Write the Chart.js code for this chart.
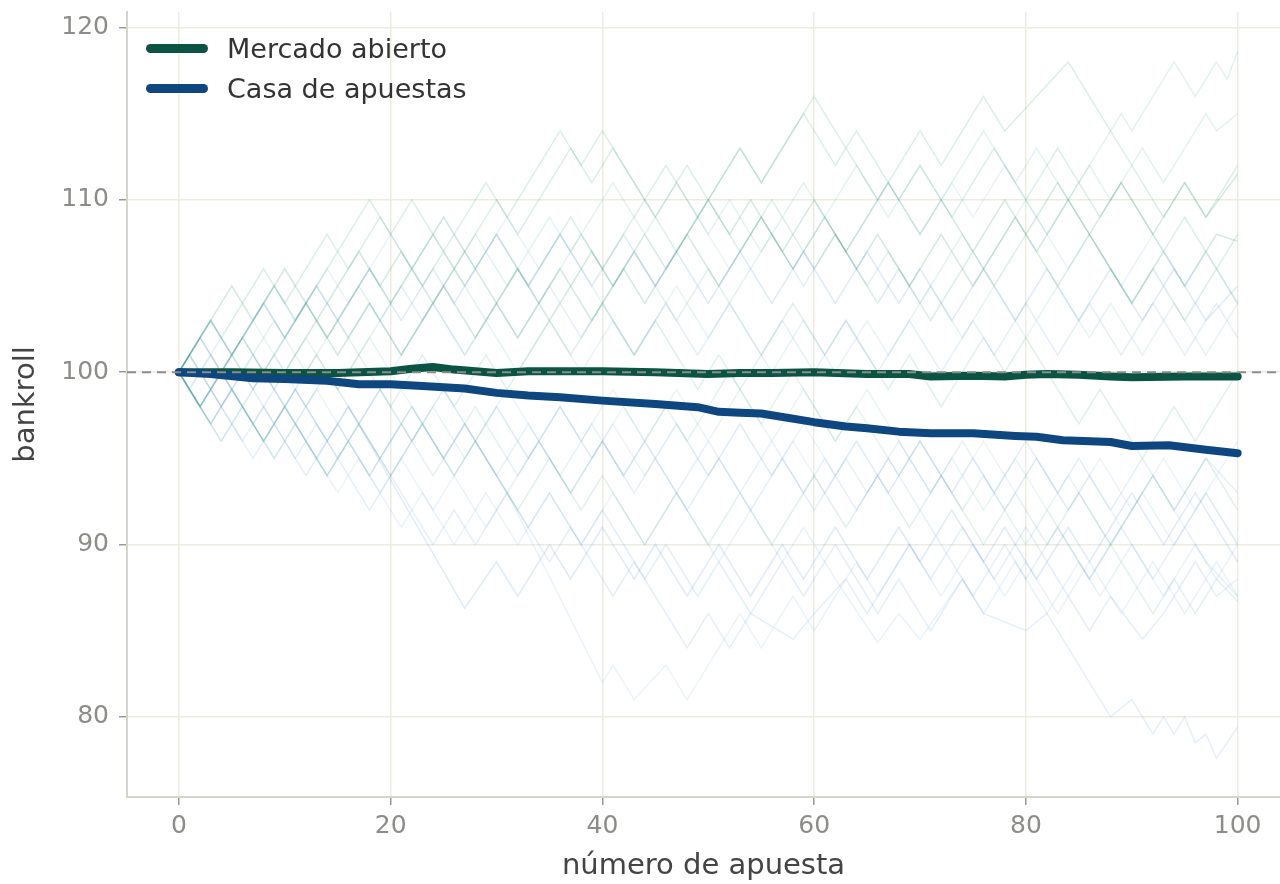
<!DOCTYPE html>
<html lang="es">
<head>
    <meta charset="UTF-8">
    <title>Bankroll: mercado abierto vs casa de apuestas</title>
    <script src="https://cdn.jsdelivr.net/npm/chart.js"></script>
    <style>
        body {
            margin: 0;
            padding: 0;
            background-color: #ffffff;
            font-family: "DejaVu Sans", sans-serif;
        }
        .chart-box {
            position: relative;
            width: 1280px;
            height: 884px;
        }
        .leyenda {
            position: absolute;
            left: 146px;
            top: 28px;
            font-size: 27px;
            color: #333333;
        }
        .leyenda div {
            height: 40px;
            display: flex;
            align-items: center;
        }
        .leyenda span.linea {
            display: inline-block;
            width: 62px;
            height: 9px;
            border-radius: 5px;
            margin-right: 19px;
        }
    </style>
</head>
<body>

<div class="chart-box">
    <canvas id="grafico"></canvas>
    <div class="leyenda">
        <div><span class="linea" style="background:#0b5444"></span>Mercado abierto</div>
        <div><span class="linea" style="background:#0e4680"></span>Casa de apuestas</div>
    </div>
</div>

<script>
    // Ticks de los ejes
    const ticksX = [0, 20, 40, 60, 80, 100];
    const ticksY = [80, 90, 100, 110, 120];

    // Media del bankroll - mercado abierto
    const mercadoX = [0, 5, 10, 15, 20, 22, 24, 26, 30, 33, 36, 40, 45, 50, 53, 56, 60, 65, 69, 71, 75, 78, 80, 82, 85, 88, 90, 95, 100];
    const mercadoMedia = [100, 100.0, 99.95, 99.95, 100.05, 100.2, 100.3, 100.15, 99.95, 100.05, 100.05, 100.05, 100.0, 99.9, 99.95, 99.95, 100.0, 99.9, 99.9, 99.75, 99.8, 99.75, 99.85, 99.9, 99.85, 99.75, 99.7, 99.75, 99.75];

    // Media del bankroll - casa de apuestas
    const casaX = [0, 3, 7, 10, 14, 17, 20, 23, 27, 30, 33, 36, 40, 45, 49, 51, 53, 55, 60, 63, 65, 68, 71, 75, 79, 81, 83.5, 88, 90, 93.5, 97, 100];
    const casaMedia = [100, 99.9, 99.65, 99.6, 99.5, 99.3, 99.3, 99.2, 99.05, 98.8, 98.65, 98.55, 98.35, 98.15, 97.97, 97.7, 97.65, 97.6, 97.1, 96.85, 96.75, 96.55, 96.45, 96.45, 96.3, 96.25, 96.05, 95.95, 95.72, 95.76, 95.5, 95.3];

    // Trayectorias individuales (vértices) - mercado abierto
    const caminosMercado = [
        [[0,100],[3,103],[5,101],[9,105],[11,103],[18,110],[20,108],[22,110],[25,107],[29,111],[31,109],[36,114],[38,112],[40,114],[44,110],[46,112],[49,109],[53,113],[55,111],[60,116],[66,110],[70,114],[72,112],[76,116],[78,114],[84,118],[93,109],[95,111],[97,109],[100,112]],
        [[0,100],[2,98],[6,102],[8,100],[12,104],[14,102],[17,105],[19,103],[24,108],[26,106],[28,108],[31,105],[35,109],[37,107],[41,111],[44,108],[47,111],[50,108],[52,110],[55,107],[59,111],[61,109],[64,112],[67,109],[70,112],[72,110],[76,114],[79,111],[81,113],[84,110],[89,115],[90,114],[94,118],[96,116],[98,118],[99,117],[100,118.6]],
        [[0,100],[1,101],[3,99],[6,102],[9,99],[13,103],[15,101],[18,104],[21,101],[25,105],[28,102],[30,104],[32,102],[36,106],[39,103],[42,106],[44,104],[48,108],[51,105],[55,109],[57,107],[60,110],[64,106],[66,108],[69,105],[72,108],[75,105],[79,109],[81,107],[84,110],[87,107],[90,104],[93,107],[95,105],[98,108],[100,107.6]],
        [[0,100],[2,102],[5,99],[7,101],[11,97],[13,99],[16,96],[19,99],[22,96],[24,98],[27,95],[30,98],[33,95],[36,98],[38,96],[41,99],[44,96],[47,99],[50,96],[53,99],[56,96],[59,99],[62,96],[65,99],[71,93],[73,95],[76,92],[79,95],[82,92],[84,94],[88,90],[91,93],[94,90],[97,93],[100,90]],
        [[0,100],[4,96],[6,98],[8,96],[13,101],[15,99],[17,101],[20,98],[23,101],[26,98],[29,101],[31,99],[35,103],[37,101],[40,104],[43,101],[45,103],[49,99],[51,101],[53,99],[58,104],[61,101],[63,103],[67,99],[69,101],[72,98],[76,102],[78,100],[80,102],[85,97],[87,99],[91,95],[94,98],[96,96],[100,100]],
        [[0,100],[3,103],[4,102],[8,106],[10,104],[14,108],[16,106],[19,109],[23,105],[25,107],[27,105],[30,108],[33,105],[37,109],[40,106],[44,110],[47,107],[50,110],[53,107],[56,110],[60,106],[62,108],[66,104],[68,106],[71,103],[75,107],[77,105],[80,108],[83,105],[86,108],[90,104],[92,106],[95,103],[98,106],[100,104]],
        [[0,100],[2,98],[4,100],[8,96],[10,98],[14,94],[16,96],[18,94],[22,98],[25,95],[28,98],[32,94],[34,96],[37,93],[40,96],[42,94],[46,98],[48,96],[52,100],[55,97],[58,100],[62,96],[64,98],[68,94],[70,96],[74,92],[76,94],[80,90],[82,92],[86,88],[88,90],[92,86],[94,88],[96,86],[98,88],[100,86.7]],
        [[0,100],[5,105],[7,103],[10,106],[13,103],[17,107],[19,105],[21,107],[24,104],[27,107],[30,104],[32,106],[35,103],[39,107],[41,105],[44,108],[46,106],[50,110],[52,108],[54,110],[58,106],[61,109],[63,107],[67,111],[70,108],[72,110],[75,107],[78,110],[80,108],[83,111],[86,108],[89,111],[92,108],[95,111],[97,109],[100,111.5]],
        [[0,100],[2,102],[4,100],[7,103],[10,100],[12,102],[15,99],[18,102],[20,100],[24,104],[27,101],[29,103],[32,100],[35,103],[38,100],[41,103],[43,101],[47,105],[50,102],[52,104],[56,100],[59,103],[62,100],[65,103],[67,101],[71,105],[74,102],[77,105],[80,102],[83,105],[86,102],[88,104],[91,101],[94,104],[97,101],[100,104]],
        [[0,100],[3,97],[5,99],[9,95],[11,97],[14,94],[17,97],[20,94],[23,97],[26,94],[28,96],[32,92],[35,95],[38,92],[40,94],[44,90],[47,93],[50,90],[53,93],[56,90],[60,94],[63,91],[66,94],[69,91],[72,94],[76,90],[79,93],[82,90],[85,93],[88,90],[92,94],[94,92],[97,95],[100,92]],
        [[0,100],[2,98],[5,101],[7,99],[12,104],[14,102],[18,106],[20,104],[25,109],[27,107],[30,110],[32,108],[37,113],[39,111],[41,113],[45,109],[48,112],[50,110],[53,113],[55,111],[59,115],[62,112],[64,114],[68,110],[70,112],[73,109],[77,113],[80,110],[83,113],[87,109],[89,111],[93,107],[95,109],[98,106],[100,108]],
        [[0,100],[1,99],[4,102],[6,100],[9,103],[12,100],[15,103],[17,101],[21,105],[23,103],[26,106],[29,103],[32,106],[34,104],[38,108],[41,105],[43,107],[47,103],[50,106],[52,104],[56,108],[59,105],[62,108],[65,105],[67,107],[70,104],[74,108],[76,106],[80,110],[82,108],[86,112],[88,110],[91,113],[93,111],[97,115],[98,114],[100,115]]
    ];

    // Trayectorias individuales (vértices) - casa de apuestas
    const caminosCasa = [
        [[0,100],[2,98],[3,99],[7,95],[9,97],[12,94],[14,96],[18,92],[20,94],[24,90],[26,92],[28,90],[31,93],[35,89],[37,91],[41,87],[43,89],[48,84],[50,86],[52,84],[57,89],[59,87],[62,90],[66,86],[68,88],[71,85],[74,88],[76,86],[80,85],[82,86],[88,80],[90,81],[92,79],[93,80],[94,79],[95,80],[96,78.5],[97,79],[98,77.6],[100,79.4]],
        [[0,100],[3,97],[5,99],[8,96],[10,98],[14,94],[16,96],[19,93],[21,95],[24,92],[26,94],[29,91],[31,93],[40,82],[41,83],[43,81],[46,83],[48,81],[53,86],[55,84],[58,87],[60,85],[64,89],[66,87],[69,90],[72,87],[75,90],[78,87],[80,89],[83,86],[86,89],[89,86],[92,89],[95,86],[98,89],[100,87]],
        [[0,100],[1,101],[4,98],[6,100],[9,97],[11,99],[14,96],[16,98],[27,86.3],[30,89],[32,87],[35,90],[37,88],[40,91],[43,88],[45,90],[48,87],[51,90],[54,87],[57,90],[59,88],[62,91],[65,88],[68,91],[70,89],[73,92],[76,89],[78,91],[81,88],[84,91],[86,89],[90,93],[93,90],[96,93],[100,89]],
        [[0,100],[2,98],[4,100],[6,98],[9,101],[12,98],[14,100],[17,97],[20,100],[23,97],[25,99],[28,96],[31,99],[34,96],[36,98],[39,95],[42,98],[45,95],[47,97],[50,94],[53,97],[56,94],[58,96],[61,93],[64,96],[67,93],[70,96],[73,93],[75,95],[78,92],[81,95],[84,92],[86,94],[89,91],[92,94],[95,91],[97,93],[100,90]],
        [[0,100],[3,103],[5,101],[8,104],[10,102],[13,105],[16,102],[18,104],[21,101],[24,104],[27,101],[30,104],[32,102],[35,105],[38,102],[40,104],[43,101],[46,104],[49,101],[52,104],[55,101],[57,103],[60,100],[63,103],[66,100],[69,103],[72,100],[75,103],[77,101],[80,104],[83,101],[86,104],[89,101],[92,104],[95,101],[98,104],[100,102]],
        [[0,100],[2,98],[3,99],[6,96],[8,98],[11,95],[13,97],[15,95],[17,97],[20,94],[23,97],[26,94],[28,96],[31,93],[34,96],[37,93],[40,96],[43,93],[45,95],[48,92],[51,95],[54,92],[57,95],[60,92],[63,95],[65,93],[68,96],[71,93],[74,96],[77,93],[80,96],[83,93],[85,95],[88,92],[91,95],[94,92],[97,95],[100,93]],
        [[0,100],[4,96],[6,98],[9,95],[11,97],[15,93],[17,95],[21,91],[23,93],[26,90],[29,93],[32,90],[35,93],[38,90],[41,93],[44,90],[47,93],[51,89],[54,92],[57,89],[59,91],[62,88],[66,84.3],[68,86],[70,84.5],[74,88],[76,86],[79,89],[82,86],[85,89],[87,87],[90,90],[93,87],[96,90],[98,88],[100,90]],
        [[0,100],[2,102],[4,100],[8,104],[10,102],[13,105],[15,103],[18,106],[21,103],[24,106],[26,104],[30,108],[33,105],[36,108],[39,105],[42,108],[45,105],[47,107],[50,104],[53,107],[56,104],[59,107],[62,104],[65,107],[68,104],[70,106],[73,103],[76,106],[79,103],[82,106],[85,103],[88,106],[91,103],[94,106],[97,103],[100,105]],
        [[0,100],[1,99],[3,101],[6,98],[8,100],[11,97],[14,100],[17,97],[19,99],[22,96],[25,99],[28,96],[30,98],[33,95],[36,98],[39,95],[41,97],[44,94],[47,97],[50,94],[53,97],[56,94],[59,97],[62,94],[64,96],[67,93],[70,96],[73,93],[76,96],[79,93],[81,95],[84,92],[87,95],[90,92],[93,95],[96,92],[100,96]],
        [[0,100],[3,97],[5,99],[8,96],[11,99],[14,96],[16,98],[19,95],[22,98],[25,95],[27,97],[30,94],[33,97],[36,94],[39,97],[42,94],[44,96],[47,93],[50,96],[53,93],[56,96],[59,93],[61,95],[64,92],[67,95],[70,92],[75,87],[78,90],[80,88],[83,91],[86,88],[89,91],[92,88],[95,91],[97,89],[100,87]],
        [[0,100],[2,98],[4,100],[7,97],[9,99],[13,95],[15,97],[18,94],[21,97],[24,94],[27,97],[30,94],[33,91],[35,93],[38,90],[40,92],[44,88],[46,90],[49,87],[51,89],[54,86],[58,84.5],[60,86],[63,88],[65,86],[69,90],[71,88],[74,91],[77,88],[80,91],[83,88],[86,85],[88,87],[91,84.5],[93,86],[96,89],[98,87],[100,88]],
        [[0,100],[3,103],[5,101],[9,105],[11,103],[14,106],[16,104],[20,108],[22,106],[25,109],[28,106],[31,109],[34,106],[36,108],[40,104],[43,107],[45,105],[49,109],[52,106],[55,109],[58,106],[61,109],[63,107],[67,111],[70,108],[73,111],[75,109],[78,112],[81,109],[84,106],[86,108],[89,105],[92,108],[95,105],[97,107],[100,104]]
    ];

    // Colores de las trayectorias (de verde azulado a azul)
    const coloresMercado = ['rgba(60,160,125,0.18)', 'rgba(90,175,160,0.16)', 'rgba(45,145,110,0.20)', 'rgba(110,180,175,0.15)', 'rgba(75,165,140,0.17)'];
    const coloresCasa = ['rgba(90,145,210,0.15)', 'rgba(110,170,215,0.14)', 'rgba(75,135,200,0.17)', 'rgba(130,180,215,0.14)', 'rgba(95,155,210,0.15)'];

    const aPuntos = (xs, ys) => xs.map((x, i) => ({ x: x, y: ys[i] }));
    const verticesAPuntos = v => v.map(p => ({ x: p[0], y: p[1] }));

    const datasets = [];

    // Línea de referencia (bankroll inicial)
    datasets.push({
        data: [{ x: -4.9, y: 100 }, { x: 104, y: 100 }],
        borderColor: '#8c8c8c',
        borderWidth: 2,
        borderDash: [9, 6],
        pointRadius: 0,
        order: 0
    });
    datasets.push({
        label: 'Casa de apuestas',
        data: aPuntos(casaX, casaMedia),
        borderColor: '#0e4680',
        borderWidth: 8,
        borderCapStyle: 'round',
        borderJoinStyle: 'round',
        pointRadius: 0,
        order: 1
    });
    datasets.push({
        label: 'Mercado abierto',
        data: aPuntos(mercadoX, mercadoMedia),
        borderColor: '#0b5444',
        borderWidth: 8,
        borderCapStyle: 'round',
        borderJoinStyle: 'round',
        pointRadius: 0,
        order: 2
    });
    caminosMercado.forEach((c, i) => {
        datasets.push({
            data: verticesAPuntos(c),
            borderColor: coloresMercado[i % coloresMercado.length],
            borderWidth: 1.5,
            pointRadius: 0,
            order: 10
        });
    });
    caminosCasa.forEach((c, i) => {
        datasets.push({
            data: verticesAPuntos(c),
            borderColor: coloresCasa[i % coloresCasa.length],
            borderWidth: 1.5,
            pointRadius: 0,
            order: 10
        });
    });

    const colorGrid = '#edece2';
    const colorTick = '#8c8c88';

    const ctx = document.getElementById('grafico').getContext('2d');
    const grafico = new Chart(ctx, {
        type: 'line',
        data: { datasets: datasets },
        options: {
            responsive: true,
            maintainAspectRatio: false,
            animation: false,
            layout: { padding: { top: 12, right: 0, left: 0, bottom: 0 } },
            plugins: {
                legend: { display: false },
                tooltip: { enabled: false }
            },
            scales: {
                x: {
                    type: 'linear',
                    min: -4.9,
                    max: 104,
                    afterBuildTicks: s => { s.ticks = ticksX.map(v => ({ value: v })); },
                    afterFit: s => { s.height = 87; s.paddingLeft = 0; s.paddingRight = 0; },
                    grid: {
                        color: colorGrid,
                        lineWidth: 1.5,
                        tickColor: '#999993',
                        tickLength: 8
                    },
                    border: { color: '#d5d5cc', width: 2 },
                    ticks: {
                        color: colorTick,
                        font: { family: 'DejaVu Sans', size: 25 },
                        padding: 6,
                        maxRotation: 0
                    },
                    title: {
                        display: true,
                        text: 'número de apuesta',
                        color: '#444444',
                        font: { family: 'DejaVu Sans', size: 29 },
                        padding: { top: 0, bottom: 0 }
                    }
                },
                y: {
                    type: 'linear',
                    min: 75.35,
                    max: 120.9,
                    afterBuildTicks: s => { s.ticks = ticksY.map(v => ({ value: v })); },
                    afterFit: s => { s.width = 127; s.paddingTop = 0; s.paddingBottom = 0; },
                    grid: {
                        color: colorGrid,
                        lineWidth: 1.5,
                        tickColor: '#999993',
                        tickLength: 8
                    },
                    border: { color: '#d5d5cc', width: 2 },
                    ticks: {
                        color: colorTick,
                        font: { family: 'DejaVu Sans', size: 25 },
                        padding: 10
                    },
                    title: {
                        display: true,
                        text: 'bankroll',
                        color: '#444444',
                        font: { family: 'DejaVu Sans', size: 29 },
                        padding: { top: 9, bottom: 0 }
                    }
                }
            }
        }
    });
</script>

</body>
</html>
